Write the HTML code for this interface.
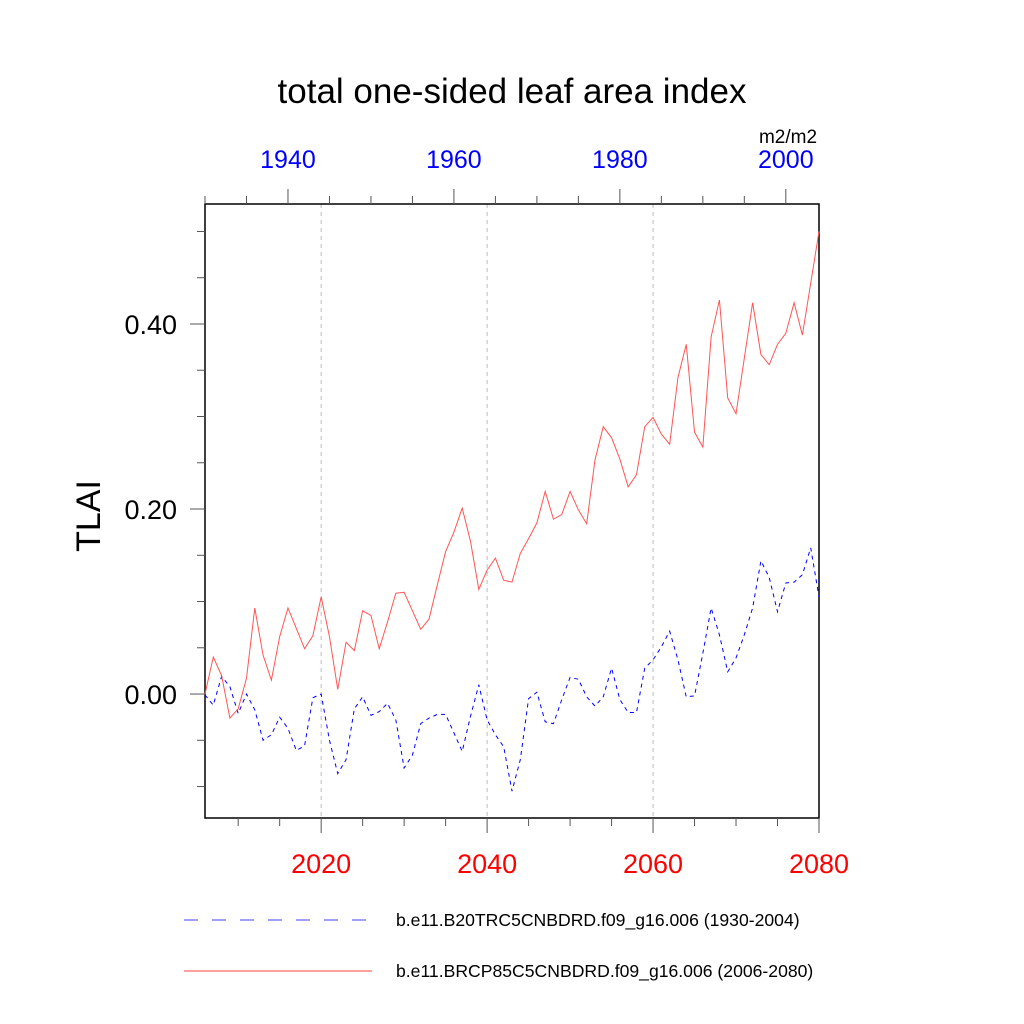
<!DOCTYPE html>
<html><head><meta charset="utf-8"><style>
body{margin:0;background:#fff;}
svg{display:block;font-family:"Liberation Sans",sans-serif;}
</style></head><body>
<svg id="chart" width="1024" height="1024" viewBox="0 0 1024 1024">
<text x="512" y="103" text-anchor="middle" font-size="35">total one-sided leaf area index</text>
<text x="788" y="143" text-anchor="middle" font-size="19">m2/m2</text>
<text x="100" y="516" text-anchor="middle" font-size="34" transform="rotate(-90 100 516)">TLAI</text>
<g id="grid"></g><g id="axes"></g><g id="series"></g>
<line x1="184" y1="920" x2="372" y2="920" stroke="#00f" stroke-width="0.8" stroke-dasharray="14,14"/>
<text x="396" y="926" font-size="17.6">b.e11.B20TRC5CNBDRD.f09_g16.006 (1930-2004)</text>
<line x1="184" y1="971" x2="372" y2="971" stroke="#f00" stroke-width="0.8"/>
<text x="396" y="977" font-size="17.6">b.e11.BRCP85C5CNBDRD.f09_g16.006 (2006-2080)</text>
</svg>
<script>
const rcpValues=[0.00,0.040,0.020,-0.026,-0.016,0.017,0.093,0.042,0.015,0.062,0.093,0.071,0.049,0.063,0.105,0.062,0.005,0.056,0.047,0.090,0.085,0.049,0.078,0.109,0.110,0.090,0.070,0.081,0.118,0.154,0.175,0.201,0.165,0.113,0.134,0.147,0.123,0.121,0.152,0.168,0.185,0.219,0.189,0.194,0.219,0.199,0.184,0.253,0.289,0.277,0.254,0.224,0.237,0.289,0.299,0.281,0.270,0.342,0.378,0.283,0.267,0.386,0.426,0.320,0.303,0.363,0.423,0.367,0.356,0.378,0.390,0.423,0.388,0.444,0.500];
const histValues=[-0.001,-0.012,0.019,0.008,-0.021,0.000,-0.017,-0.050,-0.044,-0.025,-0.037,-0.061,-0.056,-0.004,0.000,-0.050,-0.086,-0.071,-0.016,-0.003,-0.023,-0.019,-0.010,-0.028,-0.080,-0.066,-0.032,-0.026,-0.022,-0.022,-0.042,-0.062,-0.024,0.010,-0.028,-0.044,-0.057,-0.105,-0.071,-0.005,0.002,-0.030,-0.032,-0.006,0.018,0.016,-0.003,-0.013,-0.003,0.028,-0.006,-0.020,-0.020,0.028,0.037,0.051,0.068,0.037,-0.003,-0.002,0.044,0.093,0.064,0.024,0.039,0.064,0.093,0.144,0.126,0.089,0.120,0.121,0.129,0.158,0.105];
const rcpStartYear=2006, histStartYear=1930;
const bottomTicks=[2020,2040,2060,2080];
const topTicks=[1940,1960,1980,2000];
const yTicks=[0.0,0.2,0.4];
const yTickLabels=["0.00","0.20","0.40"];
const L=205,R=819,T=204,B=818,YMIN=-0.134,YMAX=0.5297;
const NS="http://www.w3.org/2000/svg";
const xb=y=>L+(y-2006)*(R-L)/74;
const xt=y=>L+(y-1930)*(R-L)/74;
const yv=v=>B-(v-YMIN)*(B-T)/(YMAX-YMIN);
function mk(tag,at,parent){const e=document.createElementNS(NS,tag);for(const k in at)e.setAttribute(k,at[k]);parent.appendChild(e);return e;}
const grid=document.getElementById('grid'),axes=document.getElementById('axes'),ser=document.getElementById('series');
bottomTicks.slice(0,3).forEach(y=>{const g=mk('line',{x1:xb(y),x2:xb(y),y1:T,y2:B,stroke:'#bbb','stroke-width':1,'stroke-dasharray':'4,4'},grid);

});
const frame=mk('rect',{x:L,y:T,width:R-L,height:B-T,fill:'none',stroke:'#000','stroke-width':1.5},axes);


for(let y=2006;y<=2080;y++){if(y%5)continue;const maj=y%20==0;const t=mk('line',{x1:xb(y),x2:xb(y),y1:B,y2:B+(maj?15:8),stroke:'#555','stroke-width':1},axes);

}
for(let y=1930;y<=2004;y++){if(y%5)continue;const maj=y%20==0;const t=mk('line',{x1:xt(y),x2:xt(y),y1:T,y2:T-(maj?15:8),stroke:'#555','stroke-width':1},axes);

}
for(let i=-2;i<=10;i++){const v=i*0.05;if(v<YMIN||v>YMAX)continue;const maj=i%4==0;const t=mk('line',{x1:L,x2:L-(maj?15:8),y1:yv(v),y2:yv(v),stroke:'#555','stroke-width':1},axes);

}
bottomTicks.forEach(y=>{const t=mk('text',{x:xb(y),y:B+55,'text-anchor':'middle','font-size':27,fill:'#f00'},axes);t.textContent=y;

});
topTicks.forEach(y=>{const t=mk('text',{x:xt(y),y:T-36,'text-anchor':'middle','font-size':25,fill:'#00f'},axes);t.textContent=y;

});
yTicks.forEach((v,i)=>{const t=mk('text',{x:L-28,y:yv(v)+10,'text-anchor':'end','font-size':27},axes);t.textContent=yTickLabels[i];

});
const hp=mk('polyline',{points:histValues.map((v,i)=>xt(histStartYear+i)+','+yv(v)).join(' '),fill:'none',stroke:'#00f','stroke-width':1,'stroke-dasharray':'4,4'},ser);


const rp=mk('polyline',{points:rcpValues.map((v,i)=>xb(rcpStartYear+i)+','+yv(v)).join(' '),fill:'none',stroke:'#f55','stroke-width':1},ser);


</script>
</body></html>
